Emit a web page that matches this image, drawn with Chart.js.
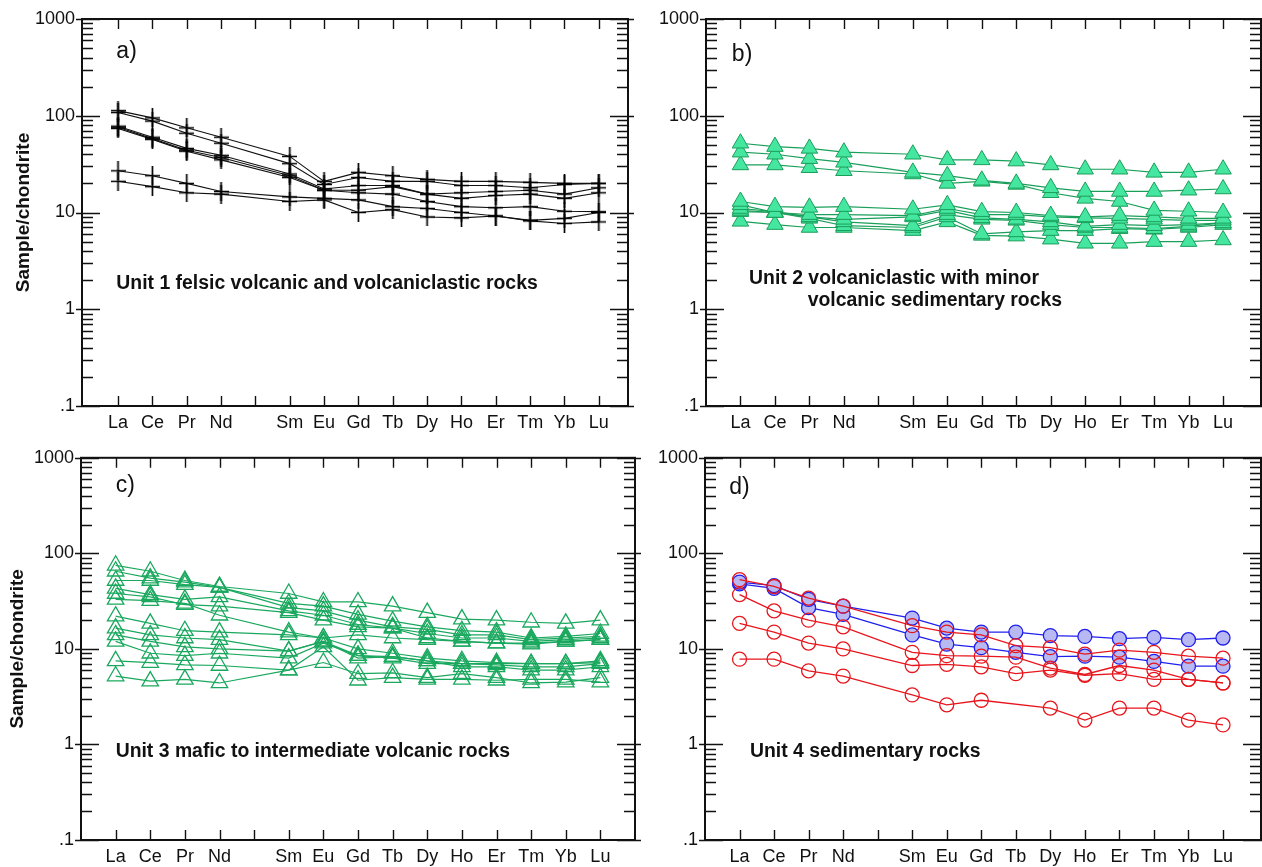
<!DOCTYPE html>
<html>
<head>
<meta charset="utf-8">
<script src="https://cdn.jsdelivr.net/npm/chart.js@4/dist/chart.umd.min.js"></script>
<style>
    body { margin: 0; background: #fff; }
    #page { position: relative; width: 1262px; height: 867px; overflow: hidden; }
    .panel { position: absolute; }
</style>
</head>
<body>
<div id="page">
    <div class="panel" style="left:0;top:0;width:641px;height:440px"><canvas id="chartA"></canvas></div>
    <div class="panel" style="left:640px;top:0;width:634px;height:440px"><canvas id="chartB"></canvas></div>
    <div class="panel" style="left:0;top:440px;width:648px;height:427px"><canvas id="chartC"></canvas></div>
    <div class="panel" style="left:640px;top:440px;width:634px;height:427px"><canvas id="chartD"></canvas></div>
</div>
<script>
// chondrite-normalised REE, Pm left out
var ree = ['La', 'Ce', 'Pr', 'Nd', 'Sm', 'Eu', 'Gd', 'Tb', 'Dy', 'Ho', 'Er', 'Tm', 'Yb', 'Lu'];
var reeZ = [57, 58, 59, 60, 62, 63, 64, 65, 66, 67, 68, 69, 70, 71];
var yTickValues = [0.1, 1, 10, 100, 1000];
var yTickLabels = ['.1', '1', '10', '100', '1000'];

// a) Unit 1
var u1s1 = [113, 95, 75, 60, 38, 21, 26, 24, 22, 21, 21, 20.5, 20, 20];
var u1s2 = [108, 88, 66, 52, 32, 19.5, 23, 21, 21, 19, 19, 18, 19.5, 20];
var u1s3 = [78, 60, 46, 39, 25, 17.5, 19, 19, 15.5, 14, 15, 15.5, 14, 16];
var u1s4 = [76, 58, 44, 37, 24, 17, 17, 18.5, 15.5, 16, 16.5, 17, 15.5, 18];
var u1s5 = [74, 57, 43, 35, 23, 17, 16, 15.5, 13, 11.5, 11.2, 11.5, 10.3, 10.2];
var u1s6 = [27, 24, 20, 16.5, 14.5, 14, 13.5, 11.5, 11, 10, 9.2, 8.3, 8.7, 10];
var u1s7 = [21, 18.5, 16, 15.5, 13, 13.5, 10, 10.7, 9, 8.8, 9.2, 8.2, 7.7, 8];

// b) Unit 2
var u2s1 = [52, 48, 46, 42, 40, 35, 35, 34, 31, 28, 28, 26, 26, 28];
var u2s2 = [42, 40, 36, 33, 26, 24, 21.5, 20, 18, 16.5, 16.5, 16.5, 17, 17.5];
var u2s3 = [31, 31, 29, 27, 25, 20, 21, 19.5, 16, 14, 13, 10.5, 10.3, 10];
var u2s4 = [13, 11.5, 11.3, 11.5, 10.8, 12, 10.2, 10, 9.3, 9, 9.3, 9, 8.7, 8.7];
var u2s5 = [12, 10, 9.5, 9.5, 9.3, 11, 9.5, 9.5, 9, 8.8, 8.7, 8.5, 8.3, 8.3];
var u2s6 = [11, 10.2, 9, 8.5, 9, 10.5, 8.8, 8.5, 8, 7.2, 7.5, 7.3, 7.5, 7.8];
var u2s7 = [10.5, 10, 9, 8, 7.3, 9.5, 8.5, 8.3, 7.5, 7, 7, 6.8, 7.2, 7.8];
var u2s8 = [10.2, 10, 8.7, 7.3, 7, 9, 6, 6.3, 6.5, 6.5, 6.8, 6.7, 7, 7.5];
var u2s9 = [8.1, 7.5, 7, 7, 6.5, 8, 5.8, 5.7, 5.3, 4.8, 4.8, 5, 5, 5.2];

// c) Unit 3
var u3s1 = [75, 65, 52, 45, 38, 31, 31, 28, 24, 20.5, 20, 19, 18.5, 20];
var u3s2 = [65, 55, 50, 44, 30, 28, 23, 19.5, 17, 15.5, 15, 13, 13.5, 14.5];
var u3s3 = [52, 52, 47, 44, 27, 25, 20, 17, 16, 14, 14, 12.5, 13, 13.5];
var u3s4 = [43, 37, 33, 35, 25, 22.5, 18, 16.5, 14.5, 13, 13, 12, 12.5, 13];
var u3s5 = [38, 35, 29, 28, 24, 20, 17, 16.5, 13, 12, 11.5, 11.5, 12, 12.5];
var u3s6 = [33, 32, 30, 22.5, 15, 13, 14, 13, 12.5, 12, 11.5, 11.2, 12, 12.5];
var u3s7 = [22, 18.5, 15.5, 15, 14, 13, 10, 9, 8, 7.5, 7.2, 7, 7, 7.5];
var u3s8 = [16.5, 14, 13, 12.5, 9.5, 12, 8.5, 8.3, 7.5, 7, 6.8, 6.5, 6.5, 7];
var u3s9 = [14, 12, 10.5, 10, 9.5, 12, 8, 8.3, 7.5, 6.5, 6.5, 6, 6, 6.5];
var u3s10 = [12, 9, 8.5, 9, 8, 11.5, 8.5, 8, 7, 7, 7, 7, 7, 7.2];
var u3s11 = [7.5, 7.2, 6.8, 6.7, 6, 7.2, 5.5, 5.6, 5, 5.5, 5, 4.4, 4.5, 5];
var u3s12 = [5.2, 4.6, 4.8, 4.4, 6, 10.5, 4.7, 5, 4.8, 4.8, 4.7, 4.8, 4.8, 4.5];

// d) Unit 4 (blue filled / red open)
var u4b1 = [50, 46, 33, 28, 21, 16.5, 15, 15, 13.8, 13.5, 12.8, 13.2, 12.5, 13];
var u4b2 = [48, 43, 27, 23, 14, 11.2, 10.3, 9.2, 8.3, 8.4, 8.2, 7.4, 6.6, 6.6];
var u4r1 = [53, 45, 34, 28, 17.5, 15, 14, 10.8, 10.3, 8.8, 9.7, 9.2, 8.4, 8];
var u4r2 = [37, 25, 20, 17, 9.2, 8.5, 8.4, 8.2, 6.3, 5.4, 6.7, 6, 4.8, 4.4];
var u4r3 = [18.5, 15, 11.5, 10, 6.7, 6.9, 6.5, 5.5, 6, 5.3, 5.5, 4.8, 4.8, 4.4];
var u4r4 = [7.8, 7.8, 5.9, 5.2, 3.3, 2.6, 2.9, null, 2.4, 1.8, 2.4, 2.4, 1.8, 1.6];

var panelTags = ['a)', 'b)', 'c)', 'd)'];
var unitNotes = [
    ['Unit 1 felsic volcanic and volcaniclastic rocks'],
    ['Unit 2 volcaniclastic with minor', 'volcanic sedimentary rocks'],
    ['Unit 3 mafic to intermediate volcanic rocks'],
    ['Unit 4 sedimentary rocks']
];

var fontName = '"Liberation Sans", Arial, sans-serif';

function series(values) {
    return values.map(function (v, i) { return { x: reeZ[i], y: v }; });
}

function plusImage(w, h) {
    var c = document.createElement('canvas');
    c.width = w;
    c.height = h;
    var g = c.getContext('2d');
    g.strokeStyle = '#000';
    g.lineWidth = 1.7;
    g.beginPath();
    g.moveTo(w / 2, 0); g.lineTo(w / 2, h);
    g.moveTo(0, h / 2); g.lineTo(w, h / 2);
    g.stroke();
    return c;
}
var plus = plusImage(15, 19);

var reeFrame = {
    id: 'reeFrame',
    beforeDatasetsDraw: function (chart) {
        var ctx = chart.ctx, a = chart.chartArea, xs = chart.scales.x, ys = chart.scales.y;
        ctx.save();
        ctx.strokeStyle = '#111';
        ctx.lineWidth = 1.4;
        ctx.beginPath();
        yTickValues.forEach(function (d) {
            var py = Math.round(ys.getPixelForValue(d)) + 0.5;
            ctx.moveTo(a.left - 6, py); ctx.lineTo(a.left + 18, py);
            ctx.moveTo(a.right + 6, py); ctx.lineTo(a.right - 18, py);
            if (d >= 1000) return;
            for (var k = 2; k <= 9; k++) {
                var my = Math.round(ys.getPixelForValue(d * k)) + 0.5;
                ctx.moveTo(a.left, my); ctx.lineTo(a.left + 11, my);
                ctx.moveTo(a.right, my); ctx.lineTo(a.right - 11, my);
            }
        });
        for (var z = reeZ[0]; z <= reeZ[reeZ.length - 1]; z++) {
            var px = Math.round(xs.getPixelForValue(z)) + 0.5;
            ctx.moveTo(px, a.top); ctx.lineTo(px, a.top + 10);
            ctx.moveTo(px, a.bottom); ctx.lineTo(px, a.bottom - 10);
        }
        ctx.stroke();
        ctx.lineWidth = 2;
        ctx.strokeRect(a.left, a.top, a.right - a.left, a.bottom - a.top);
        ctx.restore();
    },
    afterDraw: function (chart) {
        var o = chart.options.plugins.reeFrame;
        var ctx = chart.ctx, xs = chart.scales.x, ys = chart.scales.y;
        ctx.save();
        ctx.fillStyle = '#111';
        ctx.textAlign = 'left';
        ctx.textBaseline = 'middle';
        ctx.font = '23px ' + fontName;
        ctx.fillText(o.tag, xs.getPixelForValue(o.tagAt[0]), ys.getPixelForValue(o.tagAt[1]));
        ctx.font = 'bold 19.4px ' + fontName;
        o.notes.forEach(function (t, i) {
            var at = o.noteAt[i];
            ctx.fillText(t, xs.getPixelForValue(at[0]), ys.getPixelForValue(at[1]));
        });
        ctx.restore();
    }
};

function makePanel(id, datasets, cfg) {
    var yAxis = {
        type: 'logarithmic',
        min: 0.1,
        max: 1000,
        afterBuildTicks: function (s) {
            s.ticks = yTickValues.map(function (v) { return { value: v }; });
        },
        afterFit: function (s) { s.width = cfg.left; },
        ticks: {
            padding: 7,
            color: '#111',
            font: { family: fontName, size: 18 },
            callback: function (v, i) { return yTickLabels[i]; }
        },
        grid: { display: false, drawTicks: false },
        border: { display: false },
        title: {
            display: cfg.yTitle,
            text: 'Sample/chondrite',
            color: '#111',
            padding: { top: cfg.titleGap, bottom: 0 },
            font: { family: fontName, size: 19, weight: 'bold' }
        }
    };
    var xAxis = {
        type: 'linear',
        min: cfg.xMin,
        max: cfg.xMax,
        afterBuildTicks: function (s) {
            s.ticks = reeZ.map(function (v) { return { value: v }; });
        },
        afterFit: function (s) { s.height = cfg.bottom; },
        ticks: {
            autoSkip: false,
            maxRotation: 0,
            padding: 6,
            color: '#111',
            font: { family: fontName, size: 18 },
            callback: function (v, i) { return ree[i]; }
        },
        grid: { display: false, drawTicks: false },
        border: { display: false }
    };
    return new Chart(document.getElementById(id), {
        type: 'line',
        data: { datasets: datasets },
        options: {
            responsive: true,
            maintainAspectRatio: false,
            animation: false,
            layout: { padding: { left: 0, right: 13, top: cfg.top, bottom: 0 } },
            elements: { line: { tension: 0 } },
            scales: { x: xAxis, y: yAxis },
            plugins: {
                legend: { display: false },
                tooltip: { enabled: false },
                reeFrame: cfg.frame
            }
        },
        plugins: [reeFrame]
    });
}

function plusSet(values) {
    return {
        data: series(values),
        borderColor: '#111', borderWidth: 1.1,
        pointStyle: plus, pointRadius: 9
    };
}
function filledTri(values) {
    return {
        data: series(values),
        borderColor: '#1a9f5a', borderWidth: 1.2,
        pointStyle: 'triangle', pointRadius: 9.5,
        pointBackgroundColor: '#44e6a0', pointBorderColor: '#1a9f5a', pointBorderWidth: 1
    };
}
function openTri(values) {
    return {
        data: series(values),
        borderColor: '#1aa85e', borderWidth: 1.2,
        pointStyle: 'triangle', pointRadius: 9.5,
        pointBackgroundColor: 'rgba(0,0,0,0)', pointBorderColor: '#1aa85e', pointBorderWidth: 1.3
    };
}
function redCircle(values) {
    return {
        data: series(values),
        borderColor: '#e8161c', borderWidth: 1.3, spanGaps: true,
        pointStyle: 'circle', pointRadius: 7,
        pointBackgroundColor: 'rgba(0,0,0,0)', pointBorderColor: '#e8161c', pointBorderWidth: 1.3
    };
}
function blueCircle(values) {
    return {
        data: series(values),
        borderColor: '#2020ee', borderWidth: 1.3,
        pointStyle: 'circle', pointRadius: 7,
        pointBackgroundColor: '#b8b8f2', pointBorderColor: '#2020ee', pointBorderWidth: 1.3
    };
}

makePanel('chartA', [u1s1, u1s2, u1s3, u1s4, u1s5, u1s6, u1s7].map(plusSet), {
    left: 82, top: 19, bottom: 34, xMin: 55.95, xMax: 71.85, yTitle: true, titleGap: 12,
    frame: { tag: panelTags[0], tagAt: [56.95, 455], notes: unitNotes[0], noteAt: [[56.95, 1.86]] }
});
makePanel('chartB', [u2s1, u2s2, u2s3, u2s4, u2s5, u2s6, u2s7, u2s8, u2s9].map(filledTri), {
    left: 66, top: 19, bottom: 34, xMin: 56, xMax: 72.1, yTitle: false, titleGap: 0,
    frame: { tag: panelTags[1], tagAt: [56.75, 425], notes: unitNotes[1], noteAt: [[57.25, 2.09], [58.95, 1.24]] }
});
makePanel('chartC', [u3s1, u3s2, u3s3, u3s4, u3s5, u3s6, u3s7, u3s8, u3s9, u3s10, u3s11, u3s12].map(openTri), {
    left: 81, top: 12, bottom: 27, xMin: 56, xMax: 72, yTitle: true, titleGap: 6,
    frame: { tag: panelTags[2], tagAt: [57, 515], notes: unitNotes[2], noteAt: [[57, 0.85]] }
});
makePanel('chartD', [u4r1, u4r2, u4r3, u4r4].map(redCircle).concat([u4b1, u4b2].map(blueCircle)), {
    left: 65, top: 12, bottom: 27, xMin: 56, xMax: 72.1, yTitle: false, titleGap: 0,
    frame: { tag: panelTags[3], tagAt: [56.7, 490], notes: unitNotes[3], noteAt: [[57.3, 0.85]] }
});
</script>
</body>
</html>
